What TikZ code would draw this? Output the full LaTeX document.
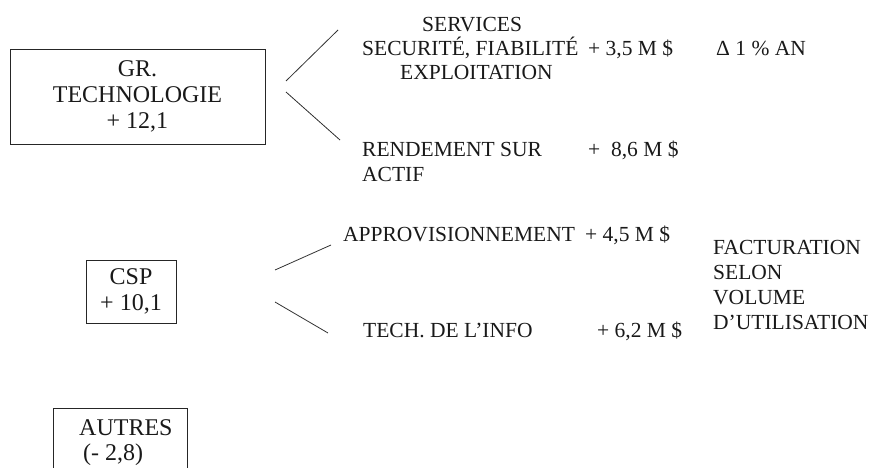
\documentclass[tikz,border=0pt]{standalone}
\usepackage{fontspec}
\setmainfont{Liberation Serif}
\begin{document}
\begin{tikzpicture}[x=1pt,y=-1pt,
  boxframe/.style={draw=black!85,line width=0.9pt,rectangle,inner sep=0pt},
  boxtext/.style={font=\fontsize{24}{26}\selectfont,inner sep=0pt,text=black!90},
  rtext/.style={font=\fontsize{21.5}{25}\selectfont,inner sep=0pt,anchor=base west,text=black!90},
  link/.style={draw=black!80,line width=0.8pt}]
\useasboundingbox (0,0) rectangle (872,468);
\clip (0,0) rectangle (872,468);
% boxes
\node[boxframe,minimum width=255pt,minimum height=95pt,boxtext,align=center] (gr) at (137.5,96.5)
  {GR.\\TECHNOLOGIE\\+ 12,1};
\node[boxframe,minimum width=90pt,minimum height=63pt,boxtext,align=center] (csp) at (131,291.5)
  {CSP\\+ 10,1};
\node[boxframe,minimum width=134pt,minimum height=100pt] (autres) at (120,458) {};
\node[boxtext,anchor=base west] (autresA) at (79,435) {AUTRES};
\node[boxtext,anchor=base west] (autresB) at (83,460) {(- 2,8)};
% right texts (top group)
\node[rtext] (serv) at (422,32) {SERVICES};
\node[rtext] (secu) at (362,56) {SECURITÉ, FIABILITÉ};
\node[rtext] (expl) at (400,80) {EXPLOITATION};
\node[rtext] (v35) at (588,56) {+ 3,5 M \$};
\node[rtext] (delta) at (716,56) {Δ 1 \% AN};
\node[rtext] (rend) at (362,157) {RENDEMENT SUR};
\node[rtext] (actif) at (362,181) {ACTIF};
\node[rtext] (v86) at (588,157) {+ \ 8,6 M \$};
% right texts (CSP group)
\node[rtext] (appro) at (343,241) {APPROVISIONNEMENT};
\node[rtext] (v45) at (585,241) {+ 4,5 M \$};
\node[rtext] (tech) at (363,337) {TECH. DE L’INFO};
\node[rtext] (v62) at (597,337) {+ 6,2 M \$};
\node[rtext,align=left,anchor=north west] (fact) at (713,240)
  {FACTURATION\\SELON\\VOLUME\\D’UTILISATION};
% connector end points
\coordinate (g1) at (286,81);
\coordinate (g1e) at (338,30);
\coordinate (g2) at (286,92);
\coordinate (g2e) at (340,140);
\coordinate (c1) at (275,270);
\coordinate (c1e) at (331,245);
\coordinate (c2) at (275,302);
\coordinate (c2e) at (328,333);
\draw[link] (g1) -- (g1e);
\draw[link] (g2) -- (g2e);
\draw[link] (c1) -- (c1e);
\draw[link] (c2) -- (c2e);
\end{tikzpicture}
\end{document}
